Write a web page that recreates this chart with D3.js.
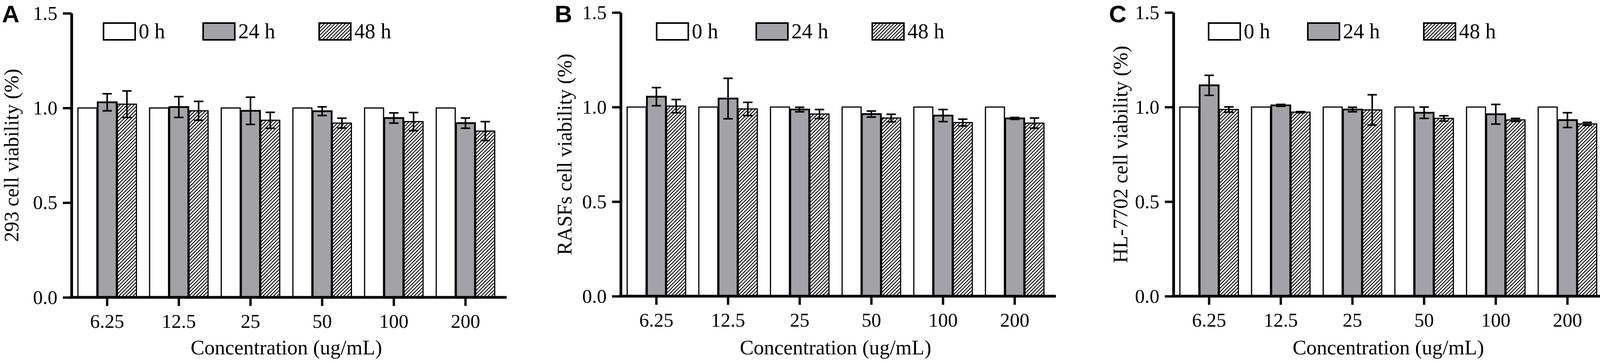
<!DOCTYPE html>
<html><head><meta charset="utf-8">
<script src="https://cdn.jsdelivr.net/npm/d3@7"></script>
<style>html,body{margin:0;padding:0;background:#fff;} svg{display:block}</style>
</head><body>
<svg id="chart" width="4132" height="929"></svg>
<script>
// ---------- data ----------
const categories = ["6.25", "12.5", "25", "50", "100", "200"];
const seriesNames = ["0 h", "24 h", "48 h"];
const yTickValues = [0.0, 0.5, 1.0, 1.5];
const panelLetters = ["A", "B", "C"];
const yTitles = ["293 cell viability (%)", "RASFs cell viability (%)", "HL-7702 cell viability (%)"];
const xTitle = "Concentration (ug/mL)";

// Panel A: 293 cells
const mean293_0h  = [1.00, 1.00, 1.00, 1.00, 1.00, 1.00];
const mean293_24h = [1.030, 1.005, 0.985, 0.983, 0.947, 0.920];
const mean293_48h = [1.020, 0.985, 0.935, 0.920, 0.928, 0.878];
const err293_24h  = [0.045, 0.055, 0.072, 0.023, 0.027, 0.027];
const err293_48h  = [0.070, 0.050, 0.042, 0.026, 0.048, 0.050];

// Panel B: RASFs
const meanRASF_0h  = [1.00, 1.00, 1.00, 1.00, 1.00, 1.00];
const meanRASF_24h = [1.055, 1.045, 0.987, 0.963, 0.955, 0.940];
const meanRASF_48h = [1.005, 0.990, 0.963, 0.942, 0.918, 0.915];
const errRASF_24h  = [0.048, 0.107, 0.012, 0.016, 0.032, 0.005];
const errRASF_48h  = [0.035, 0.035, 0.024, 0.020, 0.018, 0.027];

// Panel C: HL-7702
const meanHL_0h  = [1.00, 1.00, 1.00, 1.00, 1.00, 1.00];
const meanHL_24h = [1.115, 1.009, 0.987, 0.970, 0.962, 0.931];
const meanHL_48h = [0.987, 0.973, 0.985, 0.940, 0.932, 0.911];
const errHL_24h  = [0.053, 0.005, 0.012, 0.030, 0.052, 0.039];
const errHL_48h  = [0.014, 0.003, 0.080, 0.014, 0.008, 0.008];

// ---------- build ----------
const panelsData = [
  {means: [mean293_0h, mean293_24h, mean293_48h], errs: [null, err293_24h, err293_48h]},
  {means: [meanRASF_0h, meanRASF_24h, meanRASF_48h], errs: [null, errRASF_24h, errRASF_48h]},
  {means: [meanHL_0h, meanHL_24h, meanHL_48h], errs: [null, errHL_24h, errHL_48h]}
];

const layout = [
  {x0: 183,  yBottom: 761, yTop: 34, letterX: 5,    yTitleX: 47,   legendX: [82, 337, 634]},
  {x0: 1589, yBottom: 758, yTop: 32, letterX: 1420, yTitleX: 1463, legendX: [92, 347, 644]},
  {x0: 3004, yBottom: 758, yTop: 32, letterX: 2839, yTitleX: 2886, legendX: [90, 344, 641]}
];

const SERIF = "'Liberation Serif','Times New Roman',Times,serif";
const SANS = "'Liberation Sans',Arial,Helvetica,sans-serif";
const axisLen = 1114;

const svg = d3.select("#chart");
const defs = svg.append("defs");
const pat = defs.append("pattern").attr("id", "hatch")
  .attr("patternUnits", "userSpaceOnUse").attr("width", 9).attr("height", 9);
pat.append("rect").attr("width", 9).attr("height", 9).attr("fill", "#fff");
pat.append("path").attr("d", "M-2,2 L2,-2 M0,9 L9,0 M7,11 L11,7")
  .attr("stroke", "#000").attr("stroke-width", 2.2);

const fills = ["#ffffff", "#a3a3a7", "url(#hatch)"];
const strokeW = [3, 4.5, 3];

panelsData.forEach((pd, pi) => {
  const L = layout[pi];
  const y = d3.scaleLinear().domain([0, 1.5]).range([L.yBottom, L.yTop]);
  const g = svg.append("g");
  const x = d3.scaleBand().domain(categories)
    .range([L.x0, L.x0 + 1100]).paddingInner(0.184).paddingOuter(0.09);
  const xs = d3.scaleBand().domain(seriesNames)
    .range([0, x.bandwidth()]).paddingInner(0.04);

  // bars
  seriesNames.forEach((s, si) => {
    const rows = categories.map((c, ci) => ({c, v: pd.means[si][ci]}));
    g.append("g").selectAll("rect").data(rows).join("rect")
      .attr("x", d => x(d.c) + xs(s))
      .attr("y", d => y(d.v))
      .attr("width", xs.bandwidth())
      .attr("height", d => y(0) - y(d.v))
      .attr("fill", fills[si])
      .attr("stroke", "#000")
      .attr("stroke-width", strokeW[si]);
  });
  // error bars
  seriesNames.forEach((s, si) => {
    if (!pd.errs[si]) return;
    const rows = categories.map((c, ci) => ({c, v: pd.means[si][ci], e: pd.errs[si][ci]}));
    const eg = g.append("g").attr("stroke", "#000").attr("stroke-width", 4);
    rows.forEach(d => {
      const cx = x(d.c) + xs(s) + xs.bandwidth() / 2;
      eg.append("line").attr("x1", cx).attr("x2", cx).attr("y1", y(d.v + d.e)).attr("y2", y(d.v - d.e));
      eg.append("line").attr("x1", cx - 12).attr("x2", cx + 12).attr("y1", y(d.v + d.e)).attr("y2", y(d.v + d.e));
      eg.append("line").attr("x1", cx - 12).attr("x2", cx + 12).attr("y1", y(d.v - d.e)).attr("y2", y(d.v - d.e));
    });
  });

  // y axis
  const ya = g.append("g").attr("transform", `translate(${L.x0},0)`)
    .call(d3.axisLeft(y).tickValues(yTickValues).tickFormat(d3.format(".1f"))
      .tickSize(22).tickSizeOuter(0).tickPadding(14));
  ya.select(".domain").attr("stroke-width", 7);
  ya.selectAll(".tick line").attr("stroke-width", 6);
  ya.selectAll(".tick text").attr("font-family", SERIF).attr("font-size", 50).attr("fill", "#000");

  // x axis
  const xa = g.append("g").attr("transform", `translate(0,${y(0)})`)
    .call(d3.axisBottom(x).tickSize(22).tickSizeOuter(0));
  xa.select(".domain").remove();
  xa.selectAll(".tick line").attr("stroke-width", 6);
  xa.selectAll(".tick text").attr("font-family", SERIF).attr("font-size", 50)
    .attr("fill", "#000").attr("y", 78).attr("dy", 0);
  g.append("line").attr("x1", L.x0 - 3.5).attr("x2", L.x0 + axisLen)
    .attr("y1", y(0)).attr("y2", y(0)).attr("stroke", "#000").attr("stroke-width", 7);

  // x title
  g.append("text").attr("x", (x(categories[0]) + x(categories[5]) + x.bandwidth()) / 2).attr("y", 907)
    .attr("text-anchor", "middle").attr("font-family", SERIF).attr("font-size", 53).text(xTitle);
  // y title
  g.append("text").attr("transform", `translate(${L.yTitleX},${(y(0) + y(1.5)) / 2}) rotate(-90)`)
    .attr("text-anchor", "middle").attr("font-family", SERIF).attr("font-size", 52).text(yTitles[pi]);
  // panel letter
  g.append("text").attr("x", L.letterX).attr("y", 57).attr("font-family", SANS)
    .attr("font-weight", "bold").attr("font-size", 62).text(panelLetters[pi]);

  // legend
  const lg = g.append("g");
  seriesNames.forEach((s, si) => {
    const lx = L.x0 + L.legendX[si];
    lg.append("rect").attr("x", lx).attr("y", 59).attr("width", 81).attr("height", 43)
      .attr("fill", fills[si]).attr("stroke", "#000").attr("stroke-width", 4);
    lg.append("text").attr("x", lx + 90).attr("y", 98).attr("font-family", SERIF)
      .attr("font-size", 54).text(s);
  });
});
</script>
</body></html>
